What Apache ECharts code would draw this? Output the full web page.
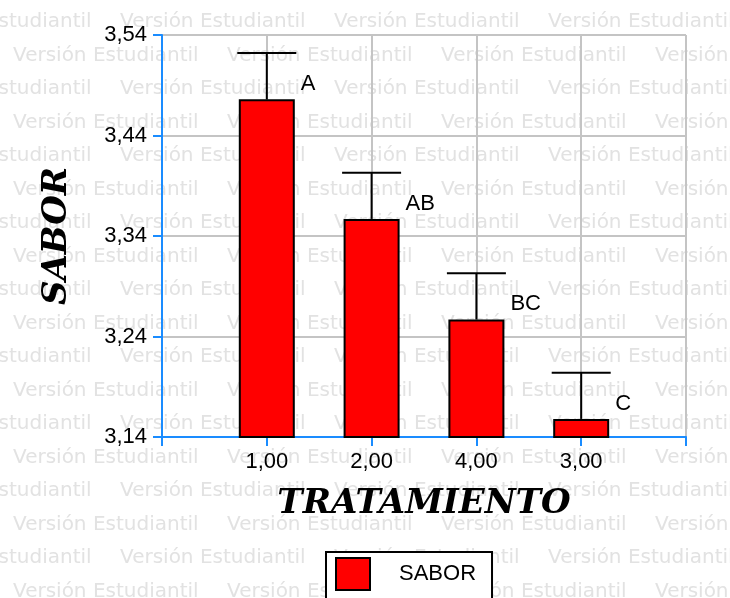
<!DOCTYPE html>
<html>
<head>
<meta charset="utf-8">
<script src="https://cdn.jsdelivr.net/npm/echarts@6/dist/echarts.min.js"></script>
<style>
html,body{margin:0;padding:0;background:#fff;}
#chart{width:730px;height:598px;}
</style>
</head>
<body>
<div id="chart"></div>
<script>
// ---- data ----
const categories = ['1,00', '2,00', '4,00', '3,00'];
const means = [3.476, 3.357, 3.257, 3.158];
const upper = [3.522, 3.403, 3.303, 3.204];
const letters = ['A', 'AB', 'BC', 'C'];
const yTicks = [3.14, 3.24, 3.34, 3.44, 3.54];
const seriesName = 'SABOR';
const xTitle = 'TRATAMIENTO';
const yTitle = 'SABOR';
const watermark = 'Versión Estudiantil';

// ---- watermark (decorative background text) ----
const wm = [];
for (let n = 0; n < 18; n++) {
  const baseline = 27 + 33.5 * n;
  const start = (n % 2 === 0) ? -94 : 13;
  for (let x = start; x < 730; x += 214) {
    wm.push({
      type: 'text', x: x, y: baseline + 5, z: -10, silent: true,
      style: { text: watermark, fill: '#e2e2e2', font: '20px "DejaVu Sans"', verticalAlign: 'bottom' }
    });
  }
}

const sans = '"Liberation Sans", Arial, sans-serif';
const blue = '#1a8cff';
const grey = '#c4c4c4';

const chart = echarts.init(document.getElementById('chart'), null, { renderer: 'canvas' });
chart.setOption({
  backgroundColor: '#ffffff',
  animation: false,
  graphic: wm,
  grid: { left: 162, right: 44, top: 35, bottom: 161, containLabel: false },
  legend: {
    data: [seriesName],
    left: 326, top: 552,
    orient: 'horizontal',
    backgroundColor: '#ffffff',
    borderColor: '#000', borderWidth: 2,
    padding: [5, 16, 30, 9],
    itemWidth: 34, itemHeight: 32,
    icon: 'rect',
    itemStyle: { color: '#ff0000', borderColor: '#000', borderWidth: 2 },
    textStyle: { fontFamily: sans, fontSize: 22, color: '#000', padding: [0, 0, 0, 24] }
  },
  xAxis: {
    type: 'value', min: 0, max: 5, interval: 1,
    name: xTitle, nameLocation: 'middle', nameGap: 50,
    nameTextStyle: { fontFamily: '"DejaVu Serif", serif', fontStyle: 'italic', fontWeight: 'bold', fontSize: 34, color: '#000' },
    axisLine: { show: true, lineStyle: { color: blue, width: 2 } },
    axisTick: { show: true, length: 9, lineStyle: { color: blue, width: 2 } },
    axisLabel: {
      margin: 14, fontFamily: sans, fontSize: 22, color: '#000',
      formatter: v => (v >= 1 && v <= categories.length) ? categories[v - 1] : ''
    },
    splitLine: { show: true, lineStyle: { color: grey, width: 2 } }
  },
  yAxis: {
    type: 'value', min: yTicks[0], max: yTicks[yTicks.length - 1], interval: 0.1,
    name: yTitle, nameLocation: 'middle', nameGap: 88, nameRotate: 90,
    nameTextStyle: { fontFamily: '"DejaVu Serif", serif', fontStyle: 'italic', fontWeight: 'bold', fontSize: 34, color: '#000' },
    axisLine: { show: true, lineStyle: { color: blue, width: 2 } },
    axisTick: { show: true, length: 9, lineStyle: { color: blue, width: 2 }, customValues: yTicks },
    axisLabel: {
      margin: 15, fontFamily: sans, fontSize: 22, color: '#000',
      customValues: yTicks,
      formatter: v => v.toFixed(2).replace('.', ',')
    },
    splitLine: { show: true, lineStyle: { color: grey, width: 2 } }
  },
  series: [
    {
      name: seriesName, type: 'bar', barWidth: 56, z: 3,
      data: means.map((m, i) => [i + 1, m]),
      itemStyle: { color: '#ff0000', borderColor: '#000', borderWidth: 2 },
      label: {
        show: true, position: ['100%', 0], offset: [6, -15],
        align: 'left', verticalAlign: 'middle',
        fontFamily: sans, fontSize: 22, color: '#000',
        formatter: p => letters[p.dataIndex]
      }
    },
    {
      name: 'err', type: 'custom', z: 4, silent: true,
      data: means.map((m, i) => [i + 1, m, upper[i]]),
      renderItem: function (params, api) {
        const x = api.value(0);
        const lo = api.coord([x, api.value(1)]);
        const hi = api.coord([x, api.value(2)]);
        const half = 29.5;
        const st = { stroke: '#000', lineWidth: 2 };
        return {
          type: 'group',
          children: [
            { type: 'line', shape: { x1: lo[0], y1: lo[1], x2: hi[0], y2: hi[1] }, style: st },
            { type: 'line', shape: { x1: hi[0] - half, y1: hi[1], x2: hi[0] + half, y2: hi[1] }, style: st }
          ]
        };
      }
    }
  ]
});
</script>
</body>
</html>
